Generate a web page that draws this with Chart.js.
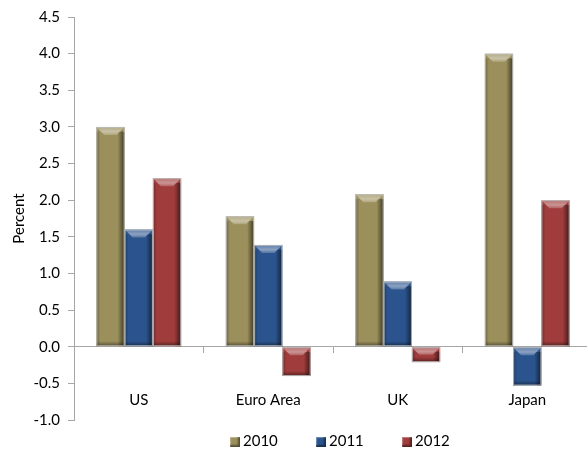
<!DOCTYPE html>
<html>
<head>
<meta charset="utf-8">
<script src="https://cdn.jsdelivr.net/npm/chart.js@4.4.0/dist/chart.umd.min.js"></script>
<style>
  html, body { margin: 0; padding: 0; background: #fff; overflow: hidden; }
  #wrap { position: relative; width: 600px; height: 456px; }
  #legenda { position: absolute; left: 0; top: 431px; height: 18px; width: 600px; font-family: Lato, sans-serif; font-size: 15px; color: #000; }
  #legenda .item { position: absolute; top: 0; line-height: 18px; white-space: nowrap; }
  #legenda .caixa { display: inline-block; width: 10px; height: 10px; margin-right: 3px; vertical-align: -1px; box-shadow: inset -2px -2px 2px rgba(0,0,0,0.45), inset 1px 1px 1px rgba(255,255,255,0.35); }
</style>
</head>
<body>
<div id="wrap"><canvas id="graf"></canvas><div id="legenda"></div></div>
<script>
// dados
var categorias = ["US", "Euro Area", "UK", "Japan"];
var anos = ["2010", "2011", "2012"];
var valores2010 = [3.0, 1.78, 2.08, 4.0];
var valores2011 = [1.6, 1.39, 0.89, -0.53];
var valores2012 = [2.3, -0.4, -0.21, 2.0];
var eixoY = { min: -1.0, max: 4.5, passo: 0.5 };

var cores = ['#9b8f5c', '#2b548e', '#a03c3c'];

// efeito de chanfro nas barras (estilo Excel)
var bevelPlugin = {
    id: 'bevel',
    afterDatasetsDraw: function (chart) {
        var ctx = chart.ctx;
        chart.data.datasets.forEach(function (ds, i) {
            var meta = chart.getDatasetMeta(i);
            meta.data.forEach(function (bar) {
                var p = bar.getProps(['x', 'y', 'base', 'width'], true);
                var x0 = p.x - p.width / 2, w = p.width;
                var y0 = Math.min(p.y, p.base), h = Math.abs(p.base - p.y);
                var b = Math.min(8, h / 2);
                ctx.save();
                ctx.beginPath();
                ctx.rect(x0, y0, w, h);
                ctx.clip();
                // topo claro
                var gt = ctx.createLinearGradient(0, y0, 0, y0 + b);
                gt.addColorStop(0, 'rgba(255,255,255,0.25)');
                gt.addColorStop(0.6, 'rgba(255,255,255,0.45)');
                gt.addColorStop(1, 'rgba(255,255,255,0.2)');
                ctx.fillStyle = gt;
                ctx.beginPath();
                ctx.moveTo(x0, y0);
                ctx.lineTo(x0 + w, y0);
                ctx.lineTo(x0 + w - b, y0 + b);
                ctx.lineTo(x0 + b, y0 + b);
                ctx.closePath();
                ctx.fill();
                // lado direito escuro
                var g = ctx.createLinearGradient(x0 + w - 7, 0, x0 + w, 0);
                g.addColorStop(0, 'rgba(0,0,0,0)');
                g.addColorStop(1, 'rgba(0,0,0,0.6)');
                ctx.fillStyle = g;
                ctx.fillRect(x0 + w - 7, y0 + b * 0.6, 7, h);
                // lado esquerdo
                var g2 = ctx.createLinearGradient(x0, 0, x0 + 4, 0);
                g2.addColorStop(0, 'rgba(0,0,0,0.3)');
                g2.addColorStop(1, 'rgba(0,0,0,0)');
                ctx.fillStyle = g2;
                ctx.fillRect(x0, y0 + b * 0.6, 4, h);
                // base escura
                var g3 = ctx.createLinearGradient(0, y0 + h - 5, 0, y0 + h);
                g3.addColorStop(0, 'rgba(0,0,0,0)');
                g3.addColorStop(1, 'rgba(0,0,0,0.45)');
                ctx.fillStyle = g3;
                ctx.fillRect(x0, y0 + h - 5, w, 5);
                ctx.restore();
                ctx.strokeStyle = 'rgba(190,190,190,0.9)';
                ctx.lineWidth = 1;
                ctx.strokeRect(x0 + 0.5, y0 + 0.5, w - 1, h - 1);
            });
        });
    }
};

// legenda em HTML, montada a partir dos anos e cores
function createLegend() {
    var legenda = document.getElementById('legenda');
    var posicoes = [230, 316, 402];
    anos.forEach(function (ano, i) {
        var item = document.createElement('span');
        item.className = 'item';
        item.style.left = posicoes[i] + 'px';
        var caixa = document.createElement('span');
        caixa.className = 'caixa';
        caixa.style.background = cores[i];
        item.appendChild(caixa);
        item.appendChild(document.createTextNode(ano));
        legenda.appendChild(item);
    });
}

function createBarChart() {
    var canvas = document.getElementById('graf');
    new Chart(canvas, {
        type: 'bar',
        data: {
            labels: categorias,
            datasets: [
                { label: anos[0], data: valores2010, backgroundColor: cores[0] },
                { label: anos[1], data: valores2011, backgroundColor: cores[1] },
                { label: anos[2], data: valores2012, backgroundColor: cores[2] }
            ]
        },
        options: {
            responsive: true,
            maintainAspectRatio: false,
            animation: false,
            categoryPercentage: 0.655,
            barPercentage: 1.0,
            layout: { padding: { top: 12, right: 8, bottom: 36, left: 6 } },
            scales: {
                x: {
                    position: { y: 0 },
                    grid: { drawOnChartArea: false, tickLength: 6, color: '#a6a6a6', offset: true },
                    border: { color: '#a6a6a6' },
                    ticks: { color: '#000', padding: 38, font: { family: 'Lato', size: 15 } }
                },
                y: {
                    min: eixoY.min,
                    max: eixoY.max,
                    ticks: {
                        stepSize: eixoY.passo,
                        color: '#000',
                        padding: 8,
                        font: { family: 'Lato', size: 15 },
                        callback: function (v) { return v.toFixed(1); }
                    },
                    grid: { drawOnChartArea: false, tickLength: 6, color: '#a6a6a6' },
                    border: { color: '#a6a6a6' },
                    title: { display: true, text: 'Percent', color: '#000', font: { family: 'Lato', size: 15 }, padding: 4 },
                    afterFit: function (scale) { scale.width = 68; }
                }
            },
            plugins: {
                legend: { display: false },
                tooltip: { enabled: false }
            }
        },
        plugins: [bevelPlugin]
    });
}

document.addEventListener('DOMContentLoaded', function () {
    createLegend();
    createBarChart();
});
</script>
</body>
</html>
